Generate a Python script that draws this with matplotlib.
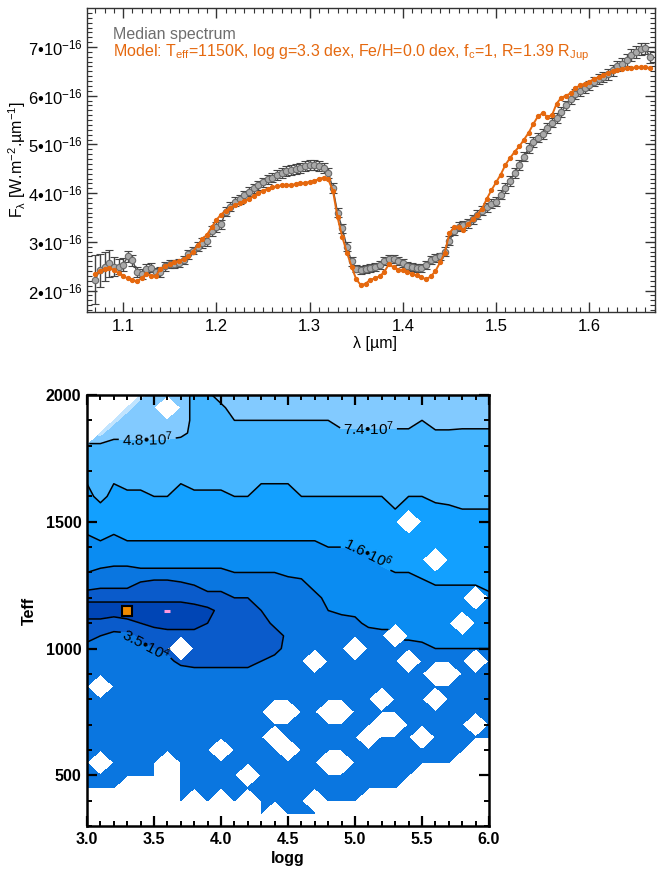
import numpy as np
import matplotlib
matplotlib.use("Agg")
import matplotlib.pyplot as plt
from matplotlib.ticker import MultipleLocator

plt.rcParams['font.family'] = ['Liberation Sans', 'DejaVu Sans']
plt.rcParams['mathtext.fontset'] = 'custom'
plt.rcParams['mathtext.rm'] = 'Liberation Sans'
plt.rcParams['mathtext.it'] = 'Liberation Sans:italic'
plt.rcParams['mathtext.bf'] = 'Liberation Sans:bold'
plt.rcParams['mathtext.sf'] = 'Liberation Sans'

# ---------------- spectrum data (flux in 1e-16 W m-2 um-1) ----------------
wavelength = np.round(np.arange(1.070, 1.6651, 0.005), 3)

median_flux = [
    2.22, 2.42, 2.49, 2.56, 2.49, 2.49, 2.53, 2.70, 2.62, 2.38,
    2.34, 2.45, 2.47, 2.38, 2.38, 2.50, 2.54, 2.55, 2.56, 2.62,
    2.74, 2.82, 2.90, 2.97, 3.02, 3.22, 3.30, 3.36, 3.62, 3.72,
    3.82, 3.87, 3.96, 4.03, 4.10, 4.16, 4.22, 4.28, 4.32, 4.37,
    4.42, 4.45, 4.48, 4.50, 4.52, 4.55, 4.57, 4.57, 4.55, 4.52,
    4.42, 4.10, 3.60, 3.28, 2.90, 2.60, 2.45, 2.42, 2.44, 2.46,
    2.48, 2.52, 2.60, 2.65, 2.64, 2.60, 2.56, 2.51, 2.48, 2.46,
    2.46, 2.52, 2.63, 2.67, 2.70, 2.80, 3.02, 3.22, 3.31, 3.34,
    3.38, 3.46, 3.56, 3.64, 3.71, 3.78, 3.82, 3.97, 4.10, 4.25,
    4.42, 4.58, 4.75, 4.92, 5.05, 5.14, 5.22, 5.34, 5.45, 5.54,
    5.66, 5.80, 5.93, 6.03, 6.09, 6.15, 6.21, 6.29, 6.35, 6.39,
    6.44, 6.52, 6.61, 6.66, 6.74, 6.83, 6.90, 6.96, 6.97, 6.80]

median_err = [
    0.50, 0.34, 0.30, 0.28, 0.20, 0.15, 0.13, 0.12, 0.11, 0.10,
    0.10, 0.09, 0.09, 0.09, 0.10, 0.09, 0.08, 0.08, 0.08, 0.08,
    0.09, 0.08, 0.09, 0.10, 0.10, 0.10, 0.10, 0.09, 0.09, 0.09,
    0.09, 0.09, 0.09, 0.09, 0.09, 0.09, 0.09, 0.10, 0.10, 0.10,
    0.10, 0.10, 0.10, 0.10, 0.10, 0.10, 0.10, 0.10, 0.10, 0.10,
    0.10, 0.10, 0.10, 0.09, 0.09, 0.09, 0.08, 0.08, 0.08, 0.08,
    0.08, 0.08, 0.08, 0.08, 0.08, 0.08, 0.08, 0.08, 0.08, 0.08,
    0.08, 0.08, 0.08, 0.08, 0.08, 0.09, 0.09, 0.09, 0.09, 0.09,
    0.09, 0.09, 0.09, 0.09, 0.09, 0.09, 0.09, 0.09, 0.10, 0.10,
    0.10, 0.10, 0.10, 0.10, 0.10, 0.10, 0.10, 0.10, 0.10, 0.10,
    0.10, 0.10, 0.10, 0.10, 0.10, 0.10, 0.10, 0.10, 0.10, 0.10,
    0.11, 0.11, 0.11, 0.11, 0.12, 0.12, 0.12, 0.12, 0.12, 0.12]

model_flux = [
    2.33, 2.40, 2.44, 2.46, 2.42, 2.36, 2.29, 2.25, 2.21, 2.19,
    2.26, 2.34, 2.30, 2.30, 2.44, 2.50, 2.54, 2.58, 2.61, 2.64,
    2.70, 2.80, 2.93, 3.05, 3.15, 3.30, 3.45, 3.56, 3.64, 3.70,
    3.75, 3.79, 3.84, 3.88, 3.94, 4.00, 4.05, 4.09, 4.12, 4.14,
    4.16, 4.17, 4.17, 4.18, 4.20, 4.21, 4.23, 4.25, 4.29, 4.32,
    4.28, 4.05, 3.50, 3.10, 2.78, 2.49, 2.23, 2.11, 2.14, 2.22,
    2.25, 2.29, 2.38, 2.54, 2.48, 2.43, 2.42, 2.38, 2.34, 2.31,
    2.27, 2.23, 2.29, 2.40, 2.58, 2.78, 3.18, 3.30, 3.31, 3.24,
    3.36, 3.46, 3.56, 3.68, 3.88, 4.06, 4.22, 4.38, 4.58, 4.72,
    4.85, 4.96, 5.10, 5.24, 5.42, 5.58, 5.64, 5.57, 5.60, 5.84,
    5.96, 6.00, 6.05, 6.15, 6.21, 6.25, 6.29, 6.34, 6.38, 6.43,
    6.47, 6.51, 6.53, 6.55, 6.56, 6.57, 6.58, 6.58, 6.58, 6.57]

spec_xticks = [1.1, 1.2, 1.3, 1.4, 1.5, 1.6]
spec_yticks = [2, 3, 4, 5, 6, 7]
spec_ylabels = [f"{v}•10$^{{-16}}$" for v in spec_yticks]
legend_lines = ["Median spectrum",
                "Model: T$_{\\mathrm{eff}}$=1150K, log g=3.3 dex, Fe/H=0.0 dex, "
                "f$_{\\mathrm{c}}$=1, R=1.39 R$_{\\mathrm{Jup}}$"]

# ---------------- chi2 map (coded level per grid node) ----------------
# columns: logg 3.0 ... 6.0 (step 0.1), rows: Teff 2000 ... 300 (step 50)
# each char = base-36 code; contour levels at 4,8,12,16,20,24(,28); '.' = no model
logg_grid = np.round(np.arange(3.0, 6.001, 0.1), 1)
teff_grid = np.arange(2000, 299, -50)
chi2_code_rows = [
    "....t qqqnn qqqqq qqqqq qqqqq qqqqq q",   # 2000
    "...tq q.qnn nqqqq qqqqq qqqqq qqqqq q",   # 1950
    "..tqq qqqnn noooo ooooq qqqqq orrqq q",   # 1900
    ".tpqq qqpnn nnnnn nnnnn nnnnn nnnnn n",   # 1850
    "nnnmm mmmnn nnnnn nnnnn nnnnn nnnnn n",   # 1800
    "nnmmm mmmmm mmmmm mmmmm mmmmm mmnmm m",   # 1750
    "lmlll lllll lllll lllll lllml lmmmm m",   # 1700
    "klkll llkll lllkk kllll lllll llmll l",   # 1650
    "jljjj kkjjj jkkjj jkkkk kkklk klmll l",   # 1600
    "ijiij jjijj jjjii ijjjj jjjkj jjjkk k",   # 1550
    "hihhi iiiii iiihh hiiii iiij. jjjjj j",   # 1500
    "ghghh hhhhh hhhhh hhhhh hhiii iiijj j",   # 1450
    "fffff fffff fffff fffgg ghhih iiiii i",   # 1400
    "dedde eeeee eeeee eefff ffhhh h.hhh i",   # 1350
    "cbbbb bbbbb bcccc ddeee fffgg hhhhh h",   # 1300
    "a9997 66789 9aabb abdee eefff fgggg h",   # 1250
    "55555 55567 7889a aabdd deeee ffff. f",   # 1200
    "22222 22223 56689 aaacd dddee eeeee f",   # 1150
    "55654 33334 55569 9aaaa bdddd ddd.e e",   # 1100
    "78997 65555 65566 9aaaa aab.d ddddd d",   # 1050
    "9aaa9 87.66 66677 9aaaa .aaaa bcccc c",   # 1000
    "aaaaa a9777 77789 aa.aa aaaa. aaaa. a",   # 950
    "aaaaa aaa99 999aa aaaaa aaaaa a..aa a",   # 900
    "a.aaa aaaaa aaaaa aaaaa aaaaa aaaaa a",   # 850
    "aaaaa aaaaa aaaaa aaaaa aa.aa a.aaa a",   # 800
    "aaaaa aaaaa aaaa. .aa.. aaaaa aaaaa a",   # 750
    "aaaaa aaaaa aaaaa aaaaa aa..a aaaa. a",   # 700
    "aaaaa aaaaa aaaa. aaaaa a.aaa .aaaa a",   # 650
    "aaaaa aaaaa .aaaa .aaaa aaaaa aaaa. .",   # 600
    "a.aaa a.aaa aaaaa aaa.. aaaaa aaa.. .",   # 550
    "aaaaa a.aaa aa.aa aaaaa aaaaa ..... .",   # 500
    "aaa.. ..aaa aaaaa aaaaa aaaa. ..... .",   # 450
    "..... ..a.a .a.aa aa.aa a.... ..... .",   # 400
    "....a ..a.. .a.a. aaa.. ..... ..... .",   # 350
    "....a ..a.. .a... ..... ..... ..... .",   # 300
]
band_levels = [-1, 4, 8, 12, 16, 20, 24, 28, 40]
band_colors = ['#0045b5', '#0a5bcb', '#0a76e0', '#0a8cf2',
               '#12a0ff', '#45b5ff', '#82caff', '#c0e4ff']
line_levels = [4, 8, 12, 16, 20, 24]
contour_label_specs = [
    (24, '7.4•10$^{7}$', (5.1, 1870)),
    (24, '4.8•10$^{7}$', (3.45, 1820)),
    (16, '1.6•10$^{6}$', (5.1, 1380)),
    (8, '3.5•10$^{4}$', (3.45, 1030)),
]
best_fit = (3.3, 1150)
second_fit = (3.6, 1150)
map_xticks = [3.0, 3.5, 4.0, 4.5, 5.0, 5.5, 6.0]
map_yticks = [500, 1000, 1500, 2000]


def decode(c):
    return np.nan if c == '.' else float(int(c, 36))


Z = np.array([[decode(c) for c in row.replace(' ', '')] for row in chi2_code_rows])
Zm = np.ma.masked_invalid(Z)

# ---------------- figure ----------------
fig = plt.figure(figsize=(6.6, 8.71), dpi=100)

# ---- top panel ----
ax1 = fig.add_axes([87 / 660, 1 - 311.7 / 871, 568 / 660, 303.4 / 871])
ax1.errorbar(wavelength, median_flux, yerr=median_err, fmt='-o', color='#4a4a4a',
             lw=1.0, ms=4.6, mfc='#a9a9a9', mec='#6a6a6a', mew=0.8,
             ecolor='#444444', elinewidth=1.0, capsize=3, capthick=1.0, zorder=2)
ax1.plot(wavelength, model_flux, '-o', color='#e5680e', lw=1.4, ms=2.8,
         mec='#e5680e', zorder=3)
ax1.set_xlim(1.0612, 1.6705)
ax1.set_ylim(1.565, 7.795)
ax1.set_xticks(spec_xticks)
ax1.set_xticklabels([f"{v:.1f}" for v in spec_xticks])
ax1.set_yticks(spec_yticks)
ax1.set_yticklabels(spec_ylabels)
ax1.xaxis.set_minor_locator(MultipleLocator(0.01))
ax1.yaxis.set_minor_locator(MultipleLocator(0.1))
ax1.tick_params(which='both', direction='in', top=True, right=True, colors='#333333',
                labelcolor='black', labelsize=12)
ax1.tick_params(which='major', length=7, width=1.0)
ax1.tick_params(which='minor', length=3.5, width=0.8)
ax1.tick_params(axis='x', which='major', pad=5)
ax1.tick_params(axis='y', which='major', pad=3)
for s in ax1.spines.values():
    s.set_color('#333333')
    s.set_linewidth(1.0)
ax1.set_xlabel("λ [µm]", fontsize=11.5)
ax1.xaxis.set_label_coords(0.507, -0.08)
ax1.set_ylabel("F$_{\\mathrm{λ}}$ [W.m$^{-2}$.µm$^{-1}$]", fontsize=11.5)
ax1.yaxis.set_label_coords(-0.104, 0.5)
fig.text(113 / 660, 1 - 38.5 / 871, legend_lines[0], color='#6e6e6e', fontsize=11.5,
         va='baseline', ha='left')
fig.text(113 / 660, 1 - 56.5 / 871, legend_lines[1], color='#e5680e', fontsize=11.5,
         va='baseline', ha='left')

# ---- bottom panel ----
ax2 = fig.add_axes([87 / 660, 1 - 826 / 871, 402 / 660, 431 / 871])
ax2.contourf(logg_grid, teff_grid, Zm, levels=band_levels, colors=band_colors,
             corner_mask=True)
line_sets = {}
for lev in line_levels:
    line_sets[lev] = ax2.contour(logg_grid, teff_grid, Zm, levels=[lev], colors='black',
                                 linewidths=1.1, corner_mask=True)
for lev, txt, pos in contour_label_specs:
    ax2.clabel(line_sets[lev], manual=[pos], fmt={lev: txt}, fontsize=11,
               inline=True, inline_spacing=3, colors='black')
ax2.plot(*best_fit, 's', ms=7.5, mfc='#f08a00', mec='black', mew=1.5, zorder=5)
ax2.plot(*second_fit, '_', ms=4, mew=2.2, color='#ff99dd', zorder=5)
ax2.set_xlim(3.0, 6.0)
ax2.set_ylim(300, 2000)
ax2.set_xticks(map_xticks)
ax2.set_xticklabels([f"{v:.1f}" for v in map_xticks])
ax2.set_yticks(map_yticks)
ax2.set_yticklabels([str(v) for v in map_yticks])
ax2.xaxis.set_minor_locator(MultipleLocator(0.1))
ax2.yaxis.set_minor_locator(MultipleLocator(100))
ax2.tick_params(which='both', direction='in', top=True, right=True, colors='black',
                labelsize=11.5, pad=4)
ax2.tick_params(which='major', length=7, width=1.6)
ax2.tick_params(which='minor', length=3.5, width=1.4)
for lab in ax2.get_xticklabels() + ax2.get_yticklabels():
    lab.set_fontweight('bold')
for s in ax2.spines.values():
    s.set_linewidth(1.8)
ax2.set_xlabel("logg", fontsize=11.5, fontweight='bold')
ax2.xaxis.set_label_coords(0.5, -0.058)
ax2.set_ylabel("Teff", fontsize=11.5, fontweight='bold')
ax2.yaxis.set_label_coords(-0.125, 0.5)

fig.savefig("out.png", dpi=100)
